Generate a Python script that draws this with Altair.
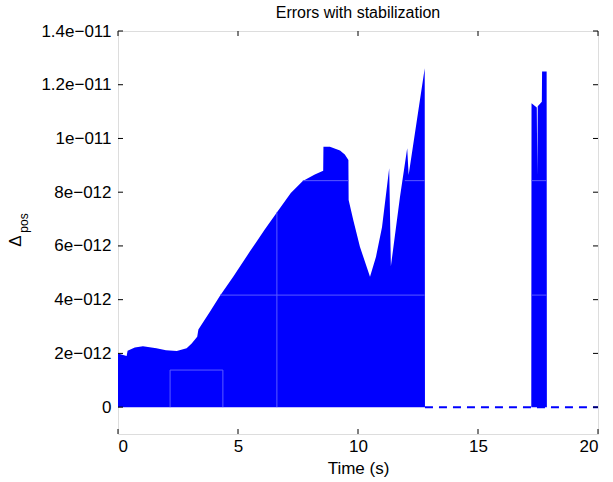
import altair as alt
import pandas as pd

# envelope of the position error (units of 1e-12)
t_env = [0.00, 0.36, 0.40, 0.70, 1.04, 1.60, 2.00, 2.45, 2.86, 3.07, 3.30, 3.35,
         3.83, 4.25, 4.80, 5.50, 6.10, 6.64, 7.20, 7.70, 8.20, 8.55,
         8.56, 8.83, 9.25, 9.45, 9.60, 9.61, 9.80, 10.08, 10.50, 10.75, 11.00,
         11.30, 11.37, 11.75, 12.05, 12.11, 12.78, 12.79, 17.22, 17.23, 17.45,
         17.47, 17.49, 17.66, 17.67, 17.86, 17.87]
v_env = [2.00, 1.90, 2.10, 2.22, 2.27, 2.19, 2.12, 2.09, 2.19, 2.37, 2.62, 2.89,
         3.55, 4.15, 4.85, 5.80, 6.59, 7.27, 7.97, 8.42, 8.66, 8.80,
         9.69, 9.69, 9.55, 9.40, 9.20, 7.71, 6.97, 5.97, 4.85, 5.60, 6.70,
         8.89, 5.24, 7.83, 9.64, 8.64, 12.61, 0.00, 0.00, 11.31, 11.15,
         8.64, 11.20, 11.37, 12.49, 12.49, 0.00]

# dashed zero line after the error vanishes
dash_t = [12.79, 20.0]
dash_v = [0.0, 0.0]

# faint rendering seams inside the filled region
seg_t1 = [2.17, 4.37, 6.62, 2.17, 4.25, 17.23, 7.70, 11.95, 17.23]
seg_t2 = [2.17, 4.37, 6.62, 4.37, 12.78, 17.86, 9.60, 12.78, 17.86]
seg_v1 = [0.0, 0.0, 0.0, 1.38, 4.17, 4.17, 8.43, 8.43, 8.43]
seg_v2 = [1.38, 1.38, 7.25, 1.38, 4.17, 4.17, 8.43, 8.43, 8.43]

x_ticks = [0, 5, 10, 15, 20]
y_ticks = [0, 2, 4, 6, 8, 10, 12, 14]

FONT = "Liberation Sans"
BLUE = "#0000ff"
W, H, TL = 480, 403, 5

env = pd.DataFrame({"t": t_env, "v": v_env})
dash = pd.DataFrame({"t": dash_t, "v": dash_v})
segs = pd.DataFrame({"t1": seg_t1, "t2": seg_t2, "v1": seg_v1, "v2": seg_v2})
xt = pd.DataFrame({"t": x_ticks})
yt = pd.DataFrame({"v": y_ticks})

xs = alt.Scale(domain=[0, 20], nice=False, zero=False)
ys = alt.Scale(domain=[-1, 14], nice=False, zero=False)

ylabel = ("datum.value == 0 ? '0' : (datum.value >= 10 ? (datum.value/10) + 'e\u2212011'"
          " : datum.value + 'e\u2212012')")

area = alt.Chart(env).mark_area(color=BLUE, interpolate="linear", opacity=1).encode(
    x=alt.X("t:Q", scale=xs, axis=alt.Axis(
        orient="bottom", values=x_ticks, ticks=True, tickSize=0, domain=False, grid=False,
        labelPadding=4, labelFontSize=17, labelFont=FONT, labelColor="black",
        title="Time (s)", titleFont=FONT, titleFontSize=17,
        titleFontWeight="normal", titleColor="black", titlePadding=6, format="d")),
    y=alt.Y("v:Q", scale=ys, stack=None, axis=alt.Axis(
        orient="left", values=y_ticks, ticks=True, tickSize=0, domain=False, grid=False,
        labelPadding=7, labelFontSize=17, labelFont=FONT, labelColor="black",
        labelExpr=ylabel, title=None)),
    y2=alt.datum(0),
)

seams = alt.Chart(segs).mark_rule(color="#5a5aff", strokeWidth=1).encode(
    x=alt.X("t1:Q", scale=xs, axis=None),
    x2="t2:Q",
    y=alt.Y("v1:Q", scale=ys, axis=None),
    y2="v2:Q",
)

dline = alt.Chart(dash).mark_line(color=BLUE, strokeWidth=2, strokeDash=[8, 6]).encode(
    x=alt.X("t:Q", scale=xs, axis=None),
    y=alt.Y("v:Q", scale=ys, axis=None),
)

# inward MATLAB-style ticks on all four sides
tick_l = alt.Chart(yt).mark_rule(color="black", strokeWidth=1).encode(
    y=alt.Y("v:Q", scale=ys, axis=None), x=alt.value(0), x2=alt.value(TL))
tick_r = alt.Chart(yt).mark_rule(color="black", strokeWidth=1).encode(
    y=alt.Y("v:Q", scale=ys, axis=None), x=alt.value(W - TL), x2=alt.value(W))
tick_b = alt.Chart(xt).mark_rule(color="black", strokeWidth=1).encode(
    x=alt.X("t:Q", scale=xs, axis=None), y=alt.value(H - TL), y2=alt.value(H))
tick_t = alt.Chart(xt).mark_rule(color="black", strokeWidth=1).encode(
    x=alt.X("t:Q", scale=xs, axis=None), y=alt.value(0), y2=alt.value(TL))

ylab_big = alt.Chart(pd.DataFrame({"s": ["\u0394"]})).mark_text(
    font=FONT, fontSize=17, angle=270, align="center", baseline="middle", color="black"
).encode(x=alt.value(-102), y=alt.value(210), text="s:N")

ylab_sub = alt.Chart(pd.DataFrame({"s": ["pos"]})).mark_text(
    font=FONT, fontSize=12, angle=270, align="center", baseline="middle", color="black"
).encode(x=alt.value(-94), y=alt.value(192), text="s:N")

chart = alt.layer(area, seams, dline, tick_l, tick_r, tick_b, tick_t,
                  ylab_big, ylab_sub).resolve_axis(
    x="independent", y="independent"
).properties(
    width=W, height=H,
    padding={"left": 118, "top": 31, "right": 15, "bottom": 48},
    autosize="none",
    title=alt.Title("Errors with stabilization", font=FONT, fontSize=16,
                    fontWeight="normal", color="black", anchor="middle",
                    frame="group", offset=1),
).configure_view(stroke="black", strokeWidth=1).configure(background="white")

chart.save("out.html", embed_options={"renderer": "svg", "actions": False})
